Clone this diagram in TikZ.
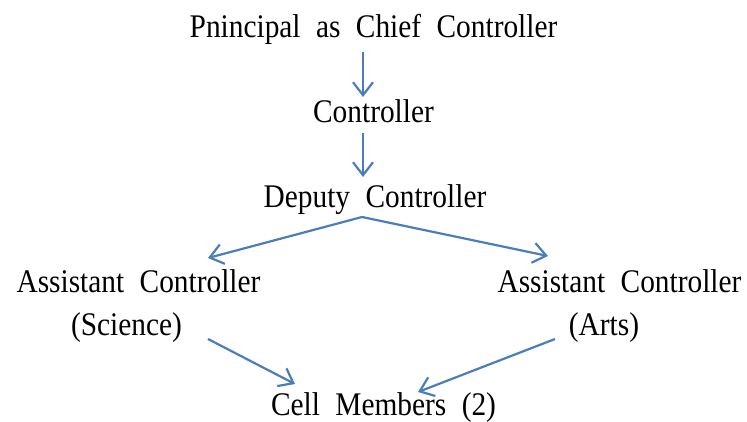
\documentclass[tikz,border=0pt]{standalone}
\usepackage{fontspec}
\setmainfont{Liberation Serif}[FakeStretch=0.89,WordSpace=2.1]
\usetikzlibrary{arrows.meta,calc}
\definecolor{arrblue}{RGB}{74,126,187}
\tikzset{
  lbl/.style={inner sep=0pt,anchor=base,font=\fontsize{33}{40}\selectfont},
  arr/.style={draw=arrblue,line width=2.2pt,-{Straight Barb[length=13pt,width=20pt]}}
}
\begin{document}
\begin{tikzpicture}[x=1pt,y=-1pt]
\useasboundingbox (0,0) rectangle (747,421);
\node[lbl] (top)  at (373.5,37) {Pnincipal as Chief Controller};
\node[lbl] (ctrl) at (373.5,122) {Controller};
\node[lbl] (dep)  at (375,207) {Deputy Controller};
\node[lbl] (asl)  at (138.5,292) {Assistant Controller};
\node[lbl] (sci)  at (126.5,335) {(Science)};
\node[lbl] (asr)  at (619.5,292) {Assistant Controller};
\node[lbl] (arts) at (604,335) {(Arts)};
\node[lbl] (cell) at (383.5,415) {Cell Members (2)};
\draw[arr] ($(top.base)+(-10.5,15)$) -- ($(ctrl.base)+(-10.5,-25)$);
\draw[arr] ($(ctrl.base)+(-10.5,11)$) -- ($(dep.base)+(-12,-30)$);
\draw[arr] ($(dep.base)+(-13,10)$) -- ($(asl.base)+(69.5,-34)$);
\draw[arr] ($(dep.base)+(-13,10)$) -- ($(asr.base)+(-71.5,-36)$);
\draw[arr] ($(sci.base)+(81.5,4)$) -- ($(cell.base)+(-88.5,-31)$);
\draw[arr] ($(arts.base)+(-49,4)$) -- ($(cell.base)+(34.5,-23)$);
\end{tikzpicture}
\end{document}
